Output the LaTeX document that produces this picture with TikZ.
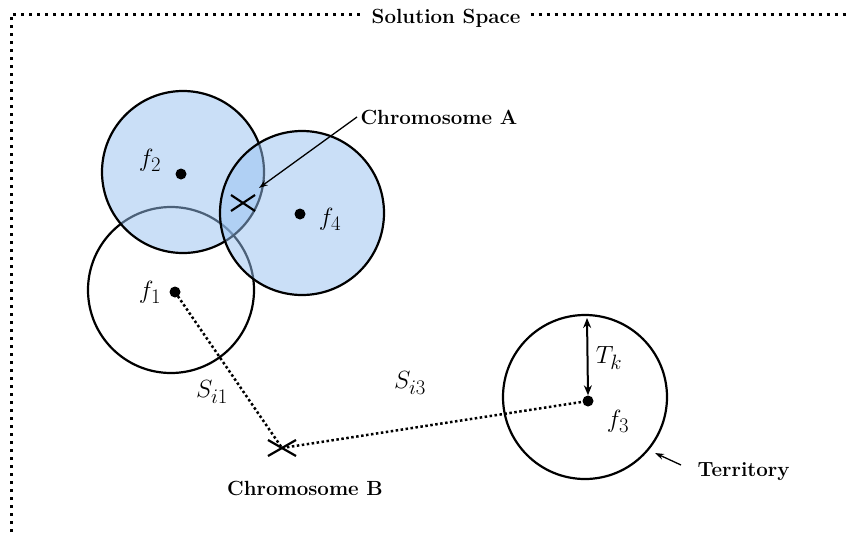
\documentclass[tikz,border=0pt]{standalone}
\usetikzlibrary{arrows.meta,calc}
\definecolor{terrblue}{RGB}{150,192,240}
\begin{document}
\begin{tikzpicture}[x=1pt,y=-1pt,
  terr/.style={draw=black,line width=2.2pt},
  blueterr/.style={terr,fill=terrblue,fill opacity=0.5},
  ctr/.style={circle,fill=black,inner sep=0pt,minimum size=11pt},
  frame/.style={line width=3pt,dash pattern=on 3pt off 5pt},
  conn/.style={line width=2.5pt,dash pattern=on 2.5pt off 2.5pt},
  lbl/.style={font=\fontsize{20.5}{24}\selectfont\bfseries},
  mlbl/.style={font=\fontsize{30}{34}\selectfont},
  cross/.style={line width=2.2pt}]
\useasboundingbox (0,0) rectangle (848,533);
% frame
\node[lbl,inner xsep=10pt] (title) at (446,18) {Solution Space};
\coordinate (fl) at (11,14);
\coordinate (fbl) at (11,540);
\coordinate (fr) at (850,14);
\draw[frame] (fbl) -- (fl) -- (fl -| title.west);
\draw[frame] (fr -| title.east) -- (fr);
% territories
\draw[terr] (171,290) circle (83);
\draw[blueterr] (183,172) circle (81);
\draw[blueterr] (302,213) circle (82);
\draw[terr] (585,397) circle (82);
% centres
\node[ctr] (c1) at (175,292) {};
\node[ctr] (c2) at (181,174) {};
\node[ctr] (c4) at (300,214) {};
\node[ctr] (c3) at (588,401) {};
\node[mlbl] at (150,292) {$f_1$};
\node[mlbl] at (150,160) {$f_2$};
\node[mlbl] at (330,219) {$f_4$};
\node[mlbl] at (618,421) {$f_3$};
% chromosome A
\coordinate (xa) at (243,203);
\draw[cross] ($(xa)+(-12,-8)$) -- ($(xa)+(12,8)$);
\draw[cross] ($(xa)+(-12,8)$) -- ($(xa)+(12,-8)$);
\node[lbl,anchor=west] (chA) at (357,117) {Chromosome A};
\draw[line width=1.3pt,-{Stealth[length=9pt,width=6pt]}] (chA.west) -- (259,188);
% chromosome B
\coordinate (xb) at (282,448);
\draw[cross] ($(xb)+(-14,-8)$) -- ($(xb)+(14,8)$);
\draw[cross] ($(xb)+(-14,8)$) -- ($(xb)+(14,-8)$);
\node[lbl] (chB) at (305,488) {Chromosome B};
\draw[conn] (c1.center) -- (xb);
\draw[conn] (xb) -- (c3.center);
\node[mlbl] at (212,392) {$S_{i1}$};
\node[mlbl] at (410,383) {$S_{i3}$};
% radius
\coordinate (top3) at (587,318);
\draw[line width=2pt,{Stealth[length=10pt,width=8pt]}-{Stealth[length=10pt,width=8pt]}] (top3) -- (c3.north);
\node[mlbl] at (609,358) {$T_k$};
% territory label
\node[lbl,anchor=west] (terrlbl) at (694,472) {Territory};
\coordinate (tpt) at (655,453);
\draw[line width=1.3pt,-{Stealth[length=9pt,width=6pt]}] (terrlbl.west) ++(-13,-7) -- (tpt);
\end{tikzpicture}
\end{document}
